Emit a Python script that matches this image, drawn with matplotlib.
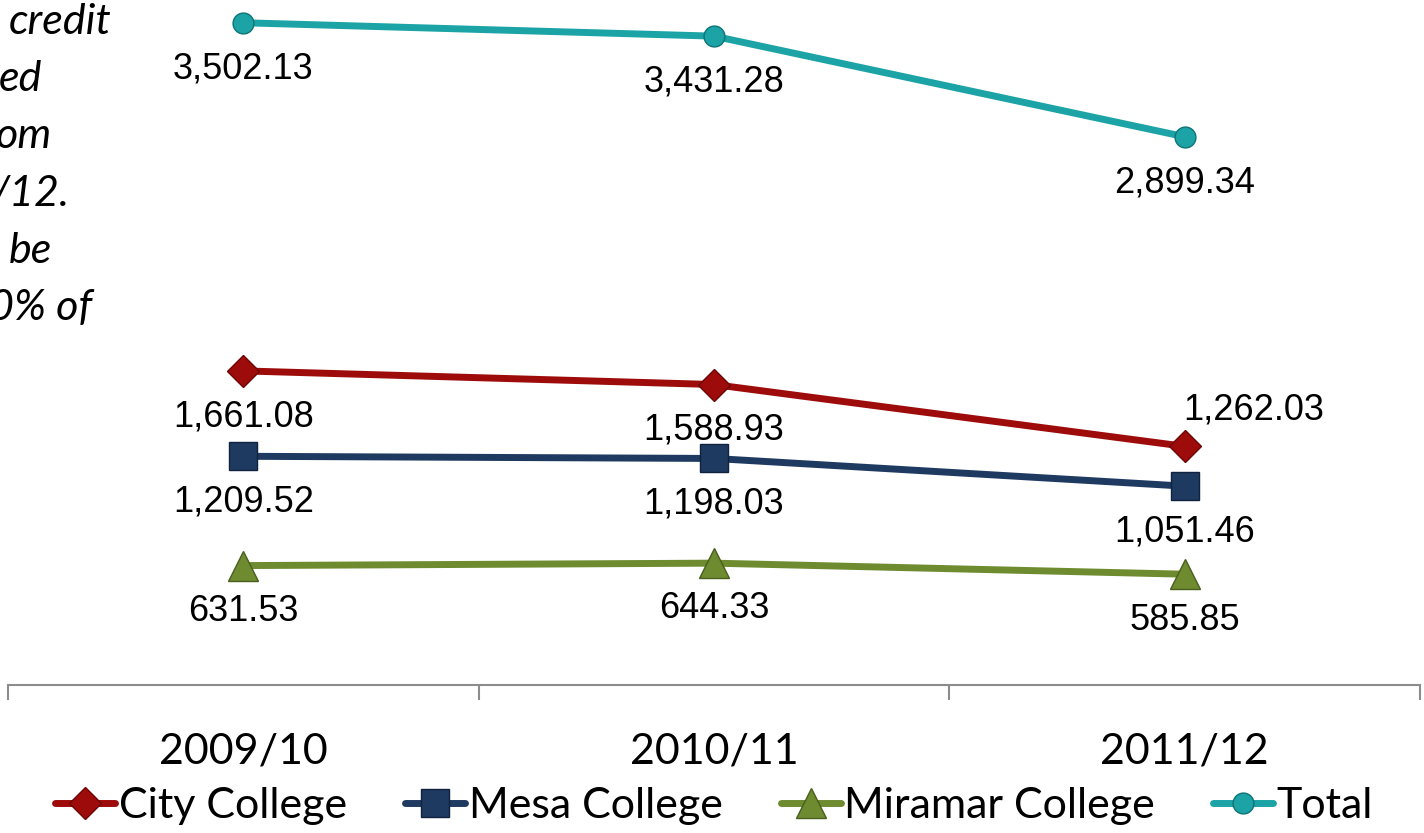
import matplotlib
matplotlib.use("Agg")
import matplotlib.pyplot as plt

# years on the x axis
years = ["2009/10", "2010/11", "2011/12"]

# FTES per college
city = [1661.08, 1588.93, 1262.03]
mesa = [1209.52, 1198.03, 1051.46]
miramar = [631.53, 644.33, 585.85]
total = [3502.13, 3431.28, 2899.34]

# cut-off pieces of the note text at the left edge
note_bits = ["credit", "ed", "om", "/12.", "be", "0% of"]

fig = plt.figure(figsize=(14.24, 8.33), dpi=100)
ax = fig.add_axes([8 / 1424, (833 - 685) / 833, 1412 / 1424, 685 / 833])

x = list(range(len(years)))

series = [
    ("City College", city, "#9E0B0B", "D", 16, "#6E0505"),
    ("Mesa College", mesa, "#1F3A60", "s", 20, "#0F2340"),
    ("Miramar College", miramar, "#6E8B30", "^", 22, "#4A5F1E"),
    ("Total", total, "#1BA3A6", "o", 15, "#0E7476"),
]

handles = []
for name, vals, col, mk, ms, edge in series:
    h, = ax.plot(x, vals, color=col, lw=5, marker=mk, markersize=ms,
                 markerfacecolor=col, markeredgecolor=edge, markeredgewidth=1,
                 clip_on=False, label=name, solid_capstyle="round")
    handles.append(h)
    for i, v in enumerate(vals):
        dx, dy = 0, -33
        if name == "City College" and i == 2:
            dx, dy = 50, 26
        ax.annotate(f"{v:,.2f}", (i, v), xytext=(dx, dy), textcoords="offset points",
                    ha="center", va="center", fontsize=26, family="Liberation Sans")

ax.set_xlim(-0.5, 2.5)
ax.set_ylim(0, 685 / 0.1891)

for s in ["top", "right", "left"]:
    ax.spines[s].set_visible(False)
ax.spines["bottom"].set_color("#8C8C8C")
ax.spines["bottom"].set_linewidth(1.5)
ax.set_yticks([])

ax.set_xticks([-0.5, 0.5, 1.5, 2.5])
ax.set_xticklabels([])
ax.tick_params(axis="x", which="major", length=11, width=1.5, color="#8C8C8C")
ax.set_xticks(x, minor=True)
ax.set_xticklabels(years, minor=True, fontsize=31, family="Lato")
ax.tick_params(axis="x", which="minor", length=0, pad=34)

# note text, right-aligned at the visible edges
rights = [112, 42, 52, 70, 52, 92]
for k, (t, r) in enumerate(zip(note_bits, rights)):
    fig.text(r / 1424, 1 - (22 + 57.2 * k) / 833, t, ha="right", va="center",
             fontsize=31, style="italic", family="Lato")

fig.legend(handles=handles, loc="center", bbox_to_anchor=(714 / 1424, 1 - 806 / 833),
           ncol=4, frameon=False, prop={"family": "Lato", "size": 31},
           handlelength=1.4, handletextpad=0.08, columnspacing=1.35, borderaxespad=0)

fig.savefig("out.png", dpi=100)
